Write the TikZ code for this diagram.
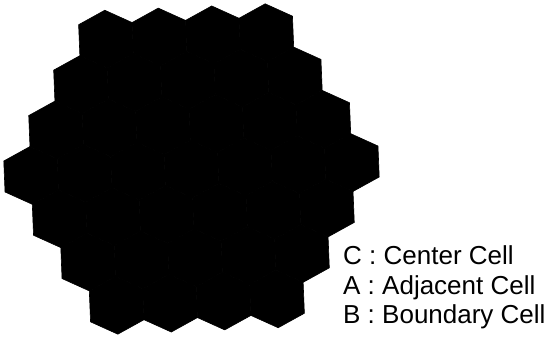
\documentclass[tikz,border=0pt]{standalone}
\usepackage{fontspec}
\setmainfont{Liberation Sans}
\begin{document}
\begin{tikzpicture}[x=1pt,y=1pt,
  hexcell/.style={fill=black,draw=black,line width=0.6pt,line join=miter},
  legend/.style={anchor=base west,inner sep=0pt,font=\fontsize{26}{30}\selectfont,text=black}]
\useasboundingbox[fill=white] (0,0) rectangle (549,339);
\begin{scope}[shift={(191.5,170)},rotate=2.3]
  \foreach \r/\n in {3/4,2/5,1/6,0/7,-1/6,-2/5,-3/4}{
    \foreach \k in {1,...,\n}{
      \pgfmathsetmacro\cx{(\k-(\n+1)/2)*53.5}
      \pgfmathsetmacro\cy{\r*44.4}
      \path[hexcell,shift={(\cx,\cy)}] (0,28.9) -- (26.75,15.5) -- (26.75,-15.5)
        -- (0,-28.9) -- (-26.75,-15.5) -- (-26.75,15.5) -- cycle;
    }
  }
\end{scope}
\node[legend] (lc) at (343,74) {C : Center Cell};
\node[legend] (la) at (343,44.5) {A : Adjacent Cell};
\node[legend] (lb) at (343,15.5) {B : Boundary Cell};
\end{tikzpicture}
\end{document}
